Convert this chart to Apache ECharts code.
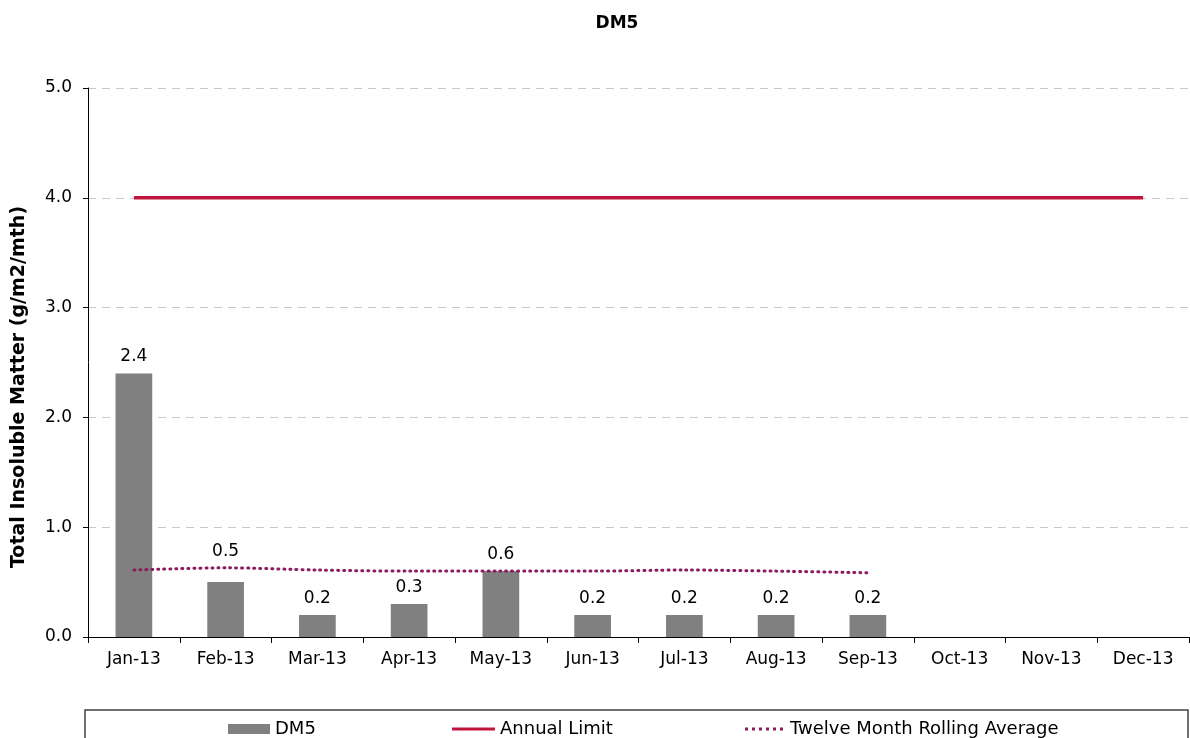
<!DOCTYPE html>
<html>
<head>
<meta charset="utf-8">
<script src="https://cdn.jsdelivr.net/npm/echarts@6/dist/echarts.min.js"></script>
<style>
  html, body { margin: 0; padding: 0; background: #fff; }
  #main { width: 1190px; height: 738px; }
</style>
</head>
<body>
<div id="main"></div>
<script>
// 月份
var months = ['Jan-13', 'Feb-13', 'Mar-13', 'Apr-13', 'May-13', 'Jun-13', 'Jul-13', 'Aug-13', 'Sep-13', 'Oct-13', 'Nov-13', 'Dec-13']
// DM5 柱子
var dm5 = [2.4, 0.5, 0.2, 0.3, 0.6, 0.2, 0.2, 0.2, 0.2, null, null, null]
// 年度限值
var annualLimit = [4, 4, 4, 4, 4, 4, 4, 4, 4, 4, 4, 4]
// 12个月滚动平均
var rollingAvg = [0.61, 0.63, 0.61, 0.60, 0.60, 0.60, 0.61, 0.60, 0.585, null, null, null]

var font = 'Verdana, "DejaVu Sans", sans-serif'
var myChart = echarts.init(document.getElementById('main'))

// 柱子数据, Feb 的标签往上挪 (原图避开了虚线)
var barData = dm5.map(function (v, i) {
  if (i === 1) return { value: v, label: { distance: 22 } }
  return v
})

// 点线图例
var dotPath = 'path://'
for (var k = 0; k < 6; k++) {
  dotPath += 'M' + (k * 7) + ',0h3v3h-3z'
}

var legendBase = {
  top: 715,
  textStyle: { fontFamily: font, fontSize: 18, color: '#000' },
  itemGap: 2,
  selectedMode: false
}

myChart.setOption({
  animation: false,
  title: {
    text: 'DM5',
    left: 612,
    top: 10,
    textAlign: 'center',
    textStyle: { fontFamily: font, fontSize: 17, fontWeight: 'bold', color: '#000' }
  },
  grid: { left: 88, right: 1, top: 88, bottom: 101, outerBoundsMode: 'none' },
  graphic: [
    {
      type: 'rect',
      shape: { x: 85, y: 710, width: 1103, height: 40 },
      style: { fill: 'none', stroke: '#404040', lineWidth: 1.5 }
    },
    {
      // y轴标题
      type: 'text',
      x: 19,
      y: 387,
      rotation: Math.PI / 2,
      style: {
        text: 'Total Insoluble Matter (g/m2/mth)',
        fontFamily: font,
        fontSize: 19,
        fontWeight: 'bold',
        fill: '#000',
        align: 'center',
        verticalAlign: 'middle'
      }
    }
  ],
  legend: [
    Object.assign({}, legendBase, {
      left: 223,
      data: [{ name: 'DM5', icon: 'rect' }],
      itemWidth: 42,
      itemHeight: 10
    }),
    Object.assign({}, legendBase, {
      left: 447,
      data: [{ name: 'Annual Limit', icon: 'rect' }],
      itemWidth: 43,
      itemHeight: 3
    }),
    Object.assign({}, legendBase, {
      left: 740,
      data: [{ name: 'Twelve Month Rolling Average', icon: dotPath }],
      itemWidth: 42,
      itemHeight: 3
    })
  ],
  xAxis: {
    type: 'category',
    data: months,
    axisLine: { lineStyle: { color: '#000', width: 1 } },
    axisTick: { show: true, length: 6, lineStyle: { color: '#000' } },
    axisLabel: { fontFamily: font, fontSize: 17, color: '#000', margin: 14 }
  },
  yAxis: {
    type: 'value',
    min: 0,
    max: 5,
    interval: 1,
    axisLine: { show: true, lineStyle: { color: '#000', width: 1 } },
    axisTick: { show: true, length: 5, lineStyle: { color: '#000' } },
    axisLabel: {
      fontFamily: font, fontSize: 17, color: '#000', margin: 16,
      formatter: function (v) { return v.toFixed(1) }
    },
    splitLine: { show: true, lineStyle: { color: '#c8c8c8', type: [8, 6], width: 1 } }
  },
  series: [
    {
      name: 'DM5',
      type: 'bar',
      data: barData,
      barWidth: '40%',
      itemStyle: { color: '#808080' },
      label: {
        show: true,
        position: 'top',
        distance: 8,
        fontFamily: font,
        fontSize: 17,
        color: '#000',
        formatter: function (p) { return p.value.toFixed(1) }
      }
    },
    {
      name: 'Annual Limit',
      type: 'line',
      data: annualLimit,
      symbol: 'none',
      lineStyle: { color: '#C0143C', width: 3.5 },
      itemStyle: { color: '#C0143C' }
    },
    {
      name: 'Twelve Month Rolling Average',
      type: 'line',
      data: rollingAvg,
      symbol: 'none',
      smooth: 0.3,
      lineStyle: { color: '#8B1A5E', width: 3, type: [1, 5], cap: 'round' },
      itemStyle: { color: '#8B1A5E' }
    }
  ]
})
</script>
</body>
</html>
